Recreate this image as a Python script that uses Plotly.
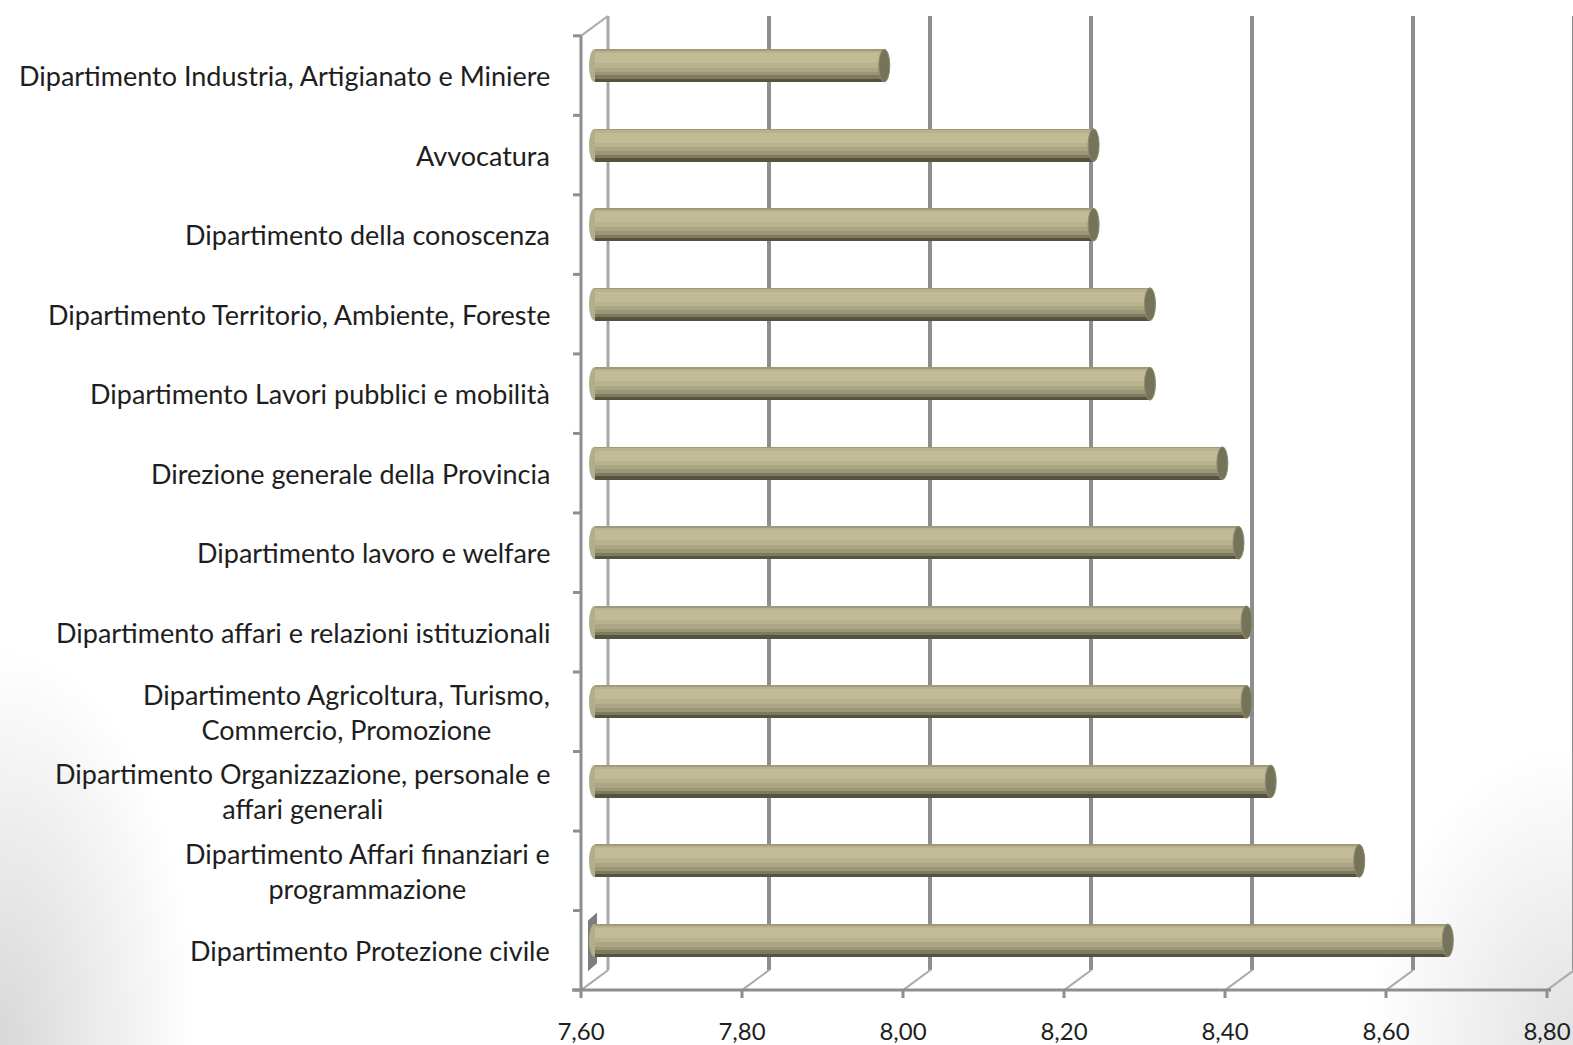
import plotly.graph_objects as go

# ---------------- data (top to bottom as in the picture) ----------------
categories = [
    "Dipartimento Industria, Artigianato e Miniere",
    "Avvocatura",
    "Dipartimento della conoscenza",
    "Dipartimento Territorio, Ambiente, Foreste",
    "Dipartimento Lavori pubblici e mobilità",
    "Direzione generale della Provincia",
    "Dipartimento lavoro e welfare",
    "Dipartimento affari e relazioni istituzionali",
    "Dipartimento Agricoltura, Turismo,<br>Commercio, Promozione",
    "Dipartimento Organizzazione, personale e<br>affari generali",
    "Dipartimento Affari finanziari e<br>programmazione",
    "Dipartimento Protezione civile",
]
values = [7.96, 8.22, 8.22, 8.29, 8.29, 8.38, 8.40, 8.41, 8.41, 8.44, 8.55, 8.66]
tick_values = [7.60, 7.80, 8.00, 8.20, 8.40, 8.60, 8.80]
tick_labels = ["7,60", "7,80", "8,00", "8,20", "8,40", "8,60", "8,80"]
AXIS_MIN = 7.60

# ---------------- geometry (pixels) ----------------
W, H = 1573, 1045
PL, PR, PT, PB = 560, 1573, 6, 1010          # plot area in pixels
PX_PER_UNIT = 805.0                            # 0.20 -> 161 px
FRONT_X0 = 581.0                               # pixel of AXIS_MIN on the front
FRONT_Y0 = 996.0                               # front floor line
BAND = 80.0                                    # px per category
DX, DY = 27.0, 20.0                            # depth offset (back = +DX, -DY)
MID_X0 = FRONT_X0 + DX / 2
MID_Y0 = FRONT_Y0 - DY / 2 - BAND / 2          # bar centre of bottom category

n = len(categories)
ypos = [n - 1 - k for k in range(n)]           # bottom category = 0


def fx(p):  # pixel -> bar x-axis value
    return AXIS_MIN + (p - MID_X0) / PX_PER_UNIT


def fy(p):  # pixel -> bar y-axis value
    return (MID_Y0 - p) / BAND


def paper_x(p):
    return (p - PL) / (PR - PL)


def paper_y(p):
    return (PB - p) / (PB - PT)


x_range = [fx(PL), fx(PR)]
y_range = [fy(PB), fy(PT)]
front_shift = (DX / 2) / PX_PER_UNIT
x2_range = [x_range[0] + front_shift, x_range[1] + front_shift]

fig = go.Figure()

# ---------------- cylinders as stacked shading stripes ----------------
BW = 33.0 / BAND
stripes = [  # (from top fraction, to fraction, colour) drawn in order
    (0.00, 1.00, "#55533f"),
    (0.00, 0.90, "#7d7a5f"),
    (0.00, 0.80, "#9a9676"),
    (0.00, 0.69, "#aaa683"),
    (0.00, 0.56, "#9e9a7a"),
    (0.05, 0.56, "#b8b38e"),
    (0.12, 0.42, "#c1bc95"),
]
lengths = [v - AXIS_MIN for v in values]
for t, b, col in stripes:
    fig.add_trace(go.Bar(
        orientation="h", y=ypos, x=lengths, base=AXIS_MIN,
        width=(b - t) * BW, offset=BW / 2 - b * BW,
        marker=dict(color=col, line=dict(width=0)),
        hoverinfo="skip", showlegend=False,
    ))

# dummy trace to activate the front x axis
fig.add_trace(go.Scatter(x=[None], y=[None], xaxis="x2", yaxis="y",
                         showlegend=False, hoverinfo="skip"))

shapes = []
GRID = "#8e8e8e"
LIGHT = "#a9a9a9"

# faint slide-background shading in the lower corners (many soft layers)
for r in range(20, 400, 10):
    shapes.append(dict(type="circle", xref="paper", yref="paper",
                       x0=paper_x(-r * 0.5), x1=paper_x(r * 0.5),
                       y0=paper_y(H + r), y1=paper_y(H - r),
                       fillcolor="rgba(0,0,0,0.0022)", line=dict(width=0), layer="below"))
for r in range(20, 300, 10):
    shapes.append(dict(type="circle", xref="paper", yref="paper",
                       x0=paper_x(W - r * 0.7), x1=paper_x(W + r * 0.7),
                       y0=paper_y(H + r), y1=paper_y(H - r),
                       fillcolor="rgba(0,0,0,0.002)", line=dict(width=0), layer="below"))


def line(x0, y0, x1, y1, color=GRID, width=3, layer="below"):
    shapes.append(dict(type="line", xref="x", yref="y",
                       x0=fx(x0), y0=fy(y0), x1=fx(x1), y1=fy(y1),
                       line=dict(color=color, width=width), layer=layer))


front_top = FRONT_Y0 - n * BAND
# back-wall gridlines and floor diagonals
for i, tv in enumerate(tick_values):
    xf = FRONT_X0 + (tv - AXIS_MIN) * PX_PER_UNIT
    line(xf + DX, front_top - DY, xf + DX, FRONT_Y0 - DY,
         color=LIGHT if i == 0 else GRID, width=3 if i == 0 else 4)
    line(xf, FRONT_Y0, xf + DX, FRONT_Y0 - DY, color=LIGHT, width=2)
    line(xf, FRONT_Y0, xf, FRONT_Y0 + 8, color=GRID, width=3)
# left wall: front vertical, top diagonal, ticks
line(FRONT_X0, front_top, FRONT_X0, FRONT_Y0, color=GRID, width=3)
line(FRONT_X0, front_top, FRONT_X0 + DX, front_top - DY, color=LIGHT, width=2)
for k in range(n + 1):
    yk = FRONT_Y0 - k * BAND
    line(FRONT_X0 - 8, yk, FRONT_X0, yk, color=GRID, width=3)
# front floor line
line(FRONT_X0 - 9, FRONT_Y0, FRONT_X0 + 1.205 * PX_PER_UNIT, FRONT_Y0, color=GRID, width=3)

# small grey panel at the start of the lowest bar
shapes.append(dict(type="path", xref="x", yref="y",
                   path="M {} {} L {} {} L {} {} L {} {} Z".format(
                       fx(588), fy(926), fx(597), fy(918),
                       fx(597), fy(969), fx(588), fy(977)),
                   fillcolor="#7d7d7d", line=dict(width=0), layer="below"))

# cylinder ends
CAP = 5.5 / PX_PER_UNIT
for yv, v in zip(ypos, values):
    shapes.append(dict(type="circle", xref="x", yref="y",
                       x0=AXIS_MIN - CAP, x1=AXIS_MIN + CAP,
                       y0=yv - BW / 2, y1=yv + BW / 2,
                       fillcolor="#b2ae8b", line=dict(width=0), layer="below"))
    shapes.append(dict(type="circle", xref="x", yref="y",
                       x0=v - CAP, x1=v + CAP,
                       y0=yv - BW / 2, y1=yv + BW / 2,
                       fillcolor="#75735a", line=dict(color="#8f8c70", width=1),
                       layer="above"))

# category labels (centred multi-line, right aligned block)
annotations = []
for yv, cat in zip(ypos, categories):
    annotations.append(dict(
        xref="paper", yref="y",
        x=paper_x(552), y=yv - (DY / 2) / BAND,
        text=cat, showarrow=False, xanchor="right", yanchor="middle",
        align="center", font=dict(family="Lato", size=27, color="#1e1e1e"),
    ))

fig.update_layout(
    width=W, height=H,
    margin=dict(l=PL, r=W - PR, t=PT, b=H - PB, pad=0),
    paper_bgcolor="white", plot_bgcolor="rgba(0,0,0,0)",
    barmode="overlay", bargap=0,
    showlegend=False,
    shapes=shapes, annotations=annotations,
    xaxis=dict(range=x_range, showgrid=False, zeroline=False, showline=False,
               showticklabels=False, ticks=""),
    xaxis2=dict(range=x2_range, overlaying="x", anchor="y", side="bottom",
                showgrid=False, zeroline=False, showline=False, ticks="",
                tickmode="array", tickvals=tick_values, ticktext=tick_labels,
                ticklabelstandoff=11,
                tickfont=dict(family="Lato", size=24, color="#1e1e1e")),
    yaxis=dict(range=y_range, showgrid=False, zeroline=False, showline=False,
               showticklabels=False, ticks=""),
)

fig.write_html("out.html")
